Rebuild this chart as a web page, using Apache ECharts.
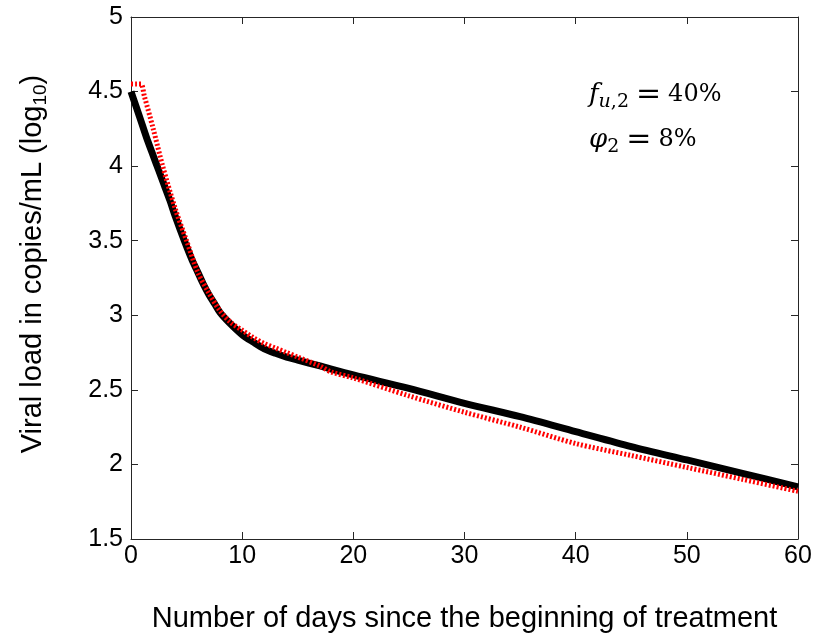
<!DOCTYPE html>
<html>
<head>
<meta charset="utf-8">
<script src="https://cdn.jsdelivr.net/npm/echarts@6/dist/echarts.min.js"></script>
<style>html,body{margin:0;padding:0;background:#fff}#c{width:817px;height:638px}</style>
</head>
<body>
<div id="c"></div>
<script>
var blackDays = [0,0.5,1,1.5,2,2.5,3,3.5,4,4.8,5.5,6,6.5,7,7.5,8,8.85,10,11,12,13,14,15,17,20,25,30,35,40,45,50,55,60];
var blackVals = [4.50,4.39,4.28,4.17,4.07,3.97,3.87,3.77,3.66,3.50,3.37,3.29,3.21,3.14,3.08,3.02,2.95,2.87,2.82,2.775,2.745,2.72,2.70,2.66,2.60,2.51,2.41,2.32,2.22,2.12,2.03,1.94,1.85];
var redDays = [0,0.5,0.9,1.2,2,2.85,4,5,6,7,8,9,10,11,12,13,14,15,17,18,20,25,30,35,40,45,50,55,60];
var redVals = [4.55,4.55,4.55,4.47,4.25,4.00,3.71,3.50,3.29,3.15,3.03,2.95,2.90,2.85,2.81,2.78,2.75,2.72,2.66,2.62,2.58,2.46,2.35,2.25,2.14,2.06,1.98,1.90,1.82];
var xTicks = {min: 0, max: 60, interval: 10};
var yTicks = {min: 1.5, max: 5, interval: 0.5};

function pairs(xs, ys){ return xs.map(function(x,i){ return [x, ys[i]]; }); }

var chart = echarts.init(document.getElementById('c'), null, {renderer: 'canvas'});
var axisCommon = {
  axisLine: {show: true, onZero: false, lineStyle: {color: '#262626', width: 1}},
  axisTick: {show: true, inside: true, length: 7, lineStyle: {color: '#262626', width: 1}},
  splitLine: {show: false}
};
var sans = 'Liberation Sans, Arial, sans-serif';
var labelFont = {fontFamily: sans, fontSize: 25, color: '#000'};
var serif = 'DejaVu Serif';
function annRich() {
  return {
    i: {fontFamily: serif, fontStyle: 'italic', fontSize: 26, color: '#000', lineHeight: 34, verticalAlign: 'middle'},
    si: {fontFamily: serif, fontStyle: 'italic', fontSize: 19, color: '#000', lineHeight: 20, verticalAlign: 'bottom'},
    s: {fontFamily: serif, fontSize: 19, color: '#000', lineHeight: 20, verticalAlign: 'bottom'},
    eq: {fontFamily: serif, fontSize: 30, color: '#000', lineHeight: 34, verticalAlign: 'middle', padding: [0, 7, 0, 7]},
    n: {fontFamily: serif, fontSize: 24, color: '#000', lineHeight: 34, verticalAlign: 'middle'}
  };
}
chart.setOption({
  animation: false,
  backgroundColor: '#fff',
  grid: {left: 131, right: 19, top: 17, bottom: 95},
  xAxis: [
    Object.assign({type: 'value', position: 'bottom', min: xTicks.min, max: xTicks.max, interval: xTicks.interval,
      axisLabel: Object.assign({margin: 5}, labelFont),
      name: 'Number of days since the beginning of treatment', nameLocation: 'middle', nameGap: 65,
      nameTextStyle: {fontFamily: sans, fontSize: 29, color: '#000'}
    }, axisCommon),
    Object.assign({type: 'value', position: 'top', min: xTicks.min, max: xTicks.max, interval: xTicks.interval,
      axisLabel: {show: false}}, axisCommon)
  ],
  yAxis: [
    Object.assign({type: 'value', position: 'left', min: yTicks.min, max: yTicks.max, interval: yTicks.interval,
      axisLabel: Object.assign({margin: 8}, labelFont)}, axisCommon),
    Object.assign({type: 'value', position: 'right', min: yTicks.min, max: yTicks.max, interval: yTicks.interval,
      axisLabel: {show: false}}, axisCommon)
  ],
  graphic: [
    {type: 'text', x: 33, y: 264, rotation: Math.PI/2,
      style: {text: '{a|Viral load in copies/mL (log}{s|10}{a|)}', align: 'center', verticalAlign: 'middle',
        rich: {
          a: {fontFamily: sans, fontSize: 29, color: '#000', lineHeight: 34, verticalAlign: 'middle'},
          s: {fontFamily: sans, fontSize: 19, color: '#000', lineHeight: 17, verticalAlign: 'bottom'}
        }}},
    {type: 'text', x: 589, y: 95,
      style: {text: '{i|f}{si|u}{s|,2}{eq|=}{n|40%}', align: 'left', verticalAlign: 'middle', rich: annRich()}},
    {type: 'text', x: 589, y: 140,
      style: {text: '{i|φ}{s|2}{eq|=}{n|8%}', align: 'left', verticalAlign: 'middle', rich: annRich()}}
  ],
  series: [
    {type: 'line', data: pairs(blackDays, blackVals), smooth: 0.3, showSymbol: false, symbol: 'none',
      lineStyle: {color: '#000', width: 7}, z: 2},
    {type: 'line', data: pairs(redDays, redVals), smooth: 0.3, showSymbol: false, symbol: 'none',
      lineStyle: {color: '#ff0000', width: 5, type: [2, 2]}, z: 3}
  ]
});
</script>
</body>
</html>
